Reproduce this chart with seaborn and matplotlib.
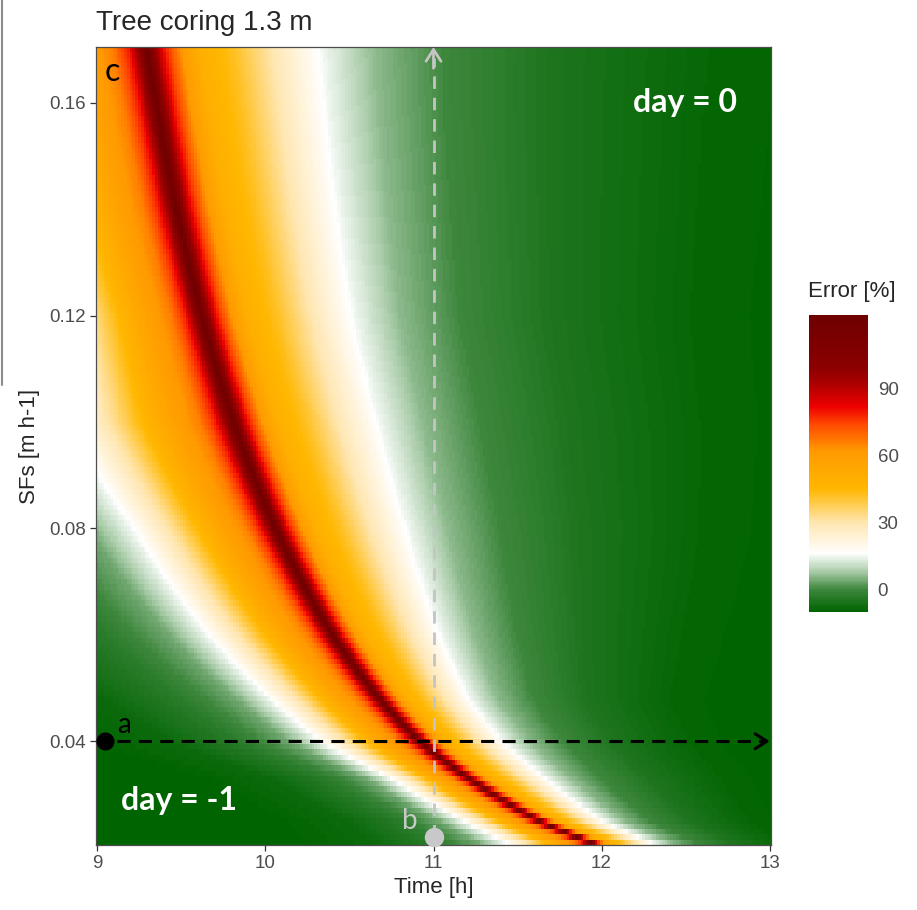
import numpy as np
import pandas as pd
import matplotlib
matplotlib.use("Agg")
import matplotlib.pyplot as plt
from matplotlib.colors import LinearSegmentedColormap
from matplotlib.lines import Line2D
import seaborn as sns

# Time of the error ridge and of the two ~15 % contours for a set of sap flux levels
anchor_sf = [0.0205, 0.025, 0.033, 0.040, 0.048, 0.060, 0.080, 0.100, 0.120, 0.140, 0.160, 0.1705]
ridge_time = [11.98, 11.63, 11.21, 10.92, 10.68, 10.40, 10.06, 9.81, 9.62, 9.47, 9.35, 9.29]
white_before = [11.45, 11.17, 10.74, 10.32, 10.02, 9.65, 9.20, 8.80, 8.70, 8.50, 8.35, 8.28]
white_after = [12.34, 12.02, 11.68, 11.42, 11.22, 11.05, 10.85, 10.68, 10.53, 10.44, 10.37, 10.34]

# Error [%] moving away from the ridge, position scaled by the distance to the 15 % contour
pos_after = [0, 0.04, 0.10, 0.20, 0.30, 0.50, 0.75, 1.00, 1.30, 1.70, 2.30, 3.20, 4.00]
error_after = [123, 100, 80, 62, 50, 42, 28, 15, 6, 0, -5, -9, -10]
pos_before = [0, 0.04, 0.10, 0.20, 0.35, 0.50, 0.70, 1.00, 1.30, 1.80, 2.50, 3.50]
error_before = [123, 100, 80, 66, 58, 48, 33, 15, 4, -3, -8, -10]

# Model grid: sap flux step 0.001 m/h, time step 1 min
sf_values = np.round(np.arange(0.021, 0.1705, 0.001), 3)
time_values = np.round(9 + np.arange(241) / 60, 4)

x_ticks = [9, 10, 11, 12, 13]
y_ticks = [0.04, 0.08, 0.12, 0.16]
y_ticklabels = ["0.04", "0.08", "0.12", "0.16"]
cbar_ticks = [0, 30, 60, 90]
err_min, err_max = -10, 123

# Transects shown as arrows
transect_sf = 0.04
transect_start = 9.047
transect_end = 13.0
profile_time = 11.0
profile_start_sf = 0.022

# ---- error surface ----
log_sf = np.log(sf_values)
log_anchor = np.log(anchor_sf)
t_ridge = np.interp(log_sf, log_anchor, ridge_time)[:, None]
t_before = np.interp(log_sf, log_anchor, white_before)[:, None]
t_after = np.interp(log_sf, log_anchor, white_after)[:, None]
T = time_values[None, :]
u = (T - t_ridge) / (t_after - t_ridge)
v = (t_ridge - T) / (t_ridge - t_before)
err = np.where(T >= t_ridge,
               np.interp(u, pos_after, error_after),
               np.interp(v, pos_before, error_before))
df = pd.DataFrame(err[::-1], index=sf_values[::-1], columns=time_values)

cmap = LinearSegmentedColormap.from_list(
    "err",
    [((v_ - err_min) / (err_max - err_min), c) for v_, c in [
        (-10, "#006400"), (0, "#3E873E"), (8, "#A9CCA9"), (16, "#FFFFFF"),
        (30, "#FFE6B0"), (45, "#FFB700"), (62, "#FF9A00"), (74, "#FF4A00"),
        (82, "#EE0000"), (93, "#A80000"), (100, "#8B0000"), (123, "#6E0000")]])

sns.set_theme(style="white")
plt.rcParams["font.family"] = ["Liberation Sans", "DejaVu Sans"]

W, H = 917, 910
fig = plt.figure(figsize=(W / 100, H / 100), dpi=100)
rect = [96 / W, 1 - 845 / H, 675 / W, 798 / H]
ax = fig.add_axes(rect)
cax = fig.add_axes([809 / W, 1 - 612 / H, 59 / W, 297 / H])

sns.heatmap(df, ax=ax, cmap=cmap, vmin=err_min, vmax=err_max, cbar_ax=cax,
            xticklabels=False, yticklabels=False, rasterized=True)
ax.set_xlabel("")
ax.set_ylabel("")

# numeric axes on top of the heatmap cells
ax2 = fig.add_axes(rect, facecolor="none")
dt = 1 / 120
ax2.set_xlim(time_values[0] - dt, time_values[-1] + dt)
ax2.set_ylim(sf_values[0] - 0.0005, sf_values[-1] + 0.0005)
ax2.set_xticks(x_ticks)
ax2.set_xticklabels([str(t) for t in x_ticks])
ax2.set_yticks(y_ticks)
ax2.set_yticklabels(y_ticklabels)
ax2.tick_params(length=4, width=0.9, color="#333333", labelsize=13.5,
                labelcolor="#4D4D4D", pad=3, bottom=True, left=True)
for s in ax2.spines.values():
    s.set_visible(True)
    s.set_color("#4D4D4D")
    s.set_linewidth(0.9)
ax2.set_xlabel("Time [h]", fontsize=16, labelpad=4)
ax2.set_ylabel("SFs [m h-1]", fontsize=16, labelpad=7)

# transect a (horizontal)
ax2.plot([transect_start + 0.07, transect_end - 0.03], [transect_sf, transect_sf],
         ls=(0, (4.3, 2.7)), lw=2.2, color="black", zorder=4)
ax2.annotate("", xy=(transect_end, transect_sf), xytext=(transect_end - 0.05, transect_sf),
             arrowprops=dict(arrowstyle="->,head_length=0.7,head_width=0.45", lw=2.2,
                             color="black", shrinkA=0, shrinkB=0), zorder=4)
ax2.plot(transect_start, transect_sf, "o", ms=12, color="black", clip_on=False, zorder=5)

# transect b (vertical)
top_sf = sf_values[-1] + 0.0005
ax2.plot([profile_time, profile_time], [profile_start_sf, top_sf - 0.002],
         ls=(0, (4.5, 3.2)), lw=2.0, color="#C4C4C4", zorder=4)
ax2.annotate("", xy=(profile_time, top_sf), xytext=(profile_time, top_sf - 0.004),
             arrowprops=dict(arrowstyle="->,head_length=0.7,head_width=0.45", lw=2.0,
                             color="#C4C4C4", shrinkA=0, shrinkB=0), zorder=4)
ax2.plot(profile_time, profile_start_sf, "o", ms=13, color="#C8C8C8", clip_on=False, zorder=5)

lab_font = ["Lato", "DejaVu Sans"]
ax2.text(0.024, 0.969, "c", transform=ax2.transAxes, fontsize=23, family=lab_font,
         ha="center", va="center", color="black")
ax2.text(0.0415, 0.150, "a", transform=ax2.transAxes, fontsize=20, family=lab_font,
         ha="center", va="center", color="black")
ax2.text(0.465, 0.030, "b", transform=ax2.transAxes, fontsize=20, family=lab_font,
         ha="center", va="center", color="#C8C8C8")
ax2.text(0.872, 0.930, "day = 0", transform=ax2.transAxes, fontsize=23, family=lab_font,
         fontweight="bold", ha="center", va="center", color="white")
ax2.text(0.123, 0.056, "day = -1", transform=ax2.transAxes, fontsize=23, family=lab_font,
         fontweight="bold", ha="center", va="center", color="white")

fig.text(96 / W, 1 - 30 / H, "Tree coring 1.3 m", fontsize=20, ha="left", va="baseline")

# colour bar
cbar = ax.collections[0].colorbar
cbar.set_ticks(cbar_ticks)
cbar.outline.set_visible(False)
cax.tick_params(axis="y", which="major", direction="in", length=10, width=1.2,
                color="white", left=True, right=True, labelsize=13.5,
                labelcolor="#4D4D4D", pad=7)
fig.text(808 / W, 1 - 292 / H, "Error [%]", fontsize=16, ha="left", va="center")

# edge of the neighbouring panel
fig.add_artist(Line2D([2 / W, 2 / W], [1, 1 - 385 / H], transform=fig.transFigure,
                      color="#8C8C8C", lw=1.5))

fig.savefig("out.png", dpi=100)
